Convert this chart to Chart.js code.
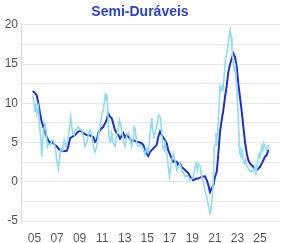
<!DOCTYPE html>
<html><head><meta charset="utf-8">
<script src="https://cdn.jsdelivr.net/npm/chart.js@4.4.1/dist/chart.umd.min.js"></script>
<style>html,body{margin:0;padding:0;background:#fff}#wrap{width:285px;height:243px}</style>
</head><body><div id="wrap"><canvas id="c" width="285" height="243"></canvas></div>
<script>
const titleText = "Semi-Duráveis";
const xTickYears = [2005,2007,2009,2011,2013,2015,2017,2019,2021,2023,2025];
const yTickLabels = [-5,0,5,10,15,20];

// monthly series (light)
const monthlyDates = [2004.84,2004.96,2005.04,2005.13,2005.20,2005.34,2005.43,2005.55,2005.64,2005.78,2005.93,2006.02,2006.14,2006.22,2006.38,2006.53,2006.67,2006.82,2006.97,2007.11,2007.20,2007.32,2007.50,2007.64,2007.80,2007.95,2008.09,2008.21,2008.30,2008.39,2008.50,2008.68,2008.89,2009.04,2009.19,2009.33,2009.48,2009.63,2009.77,2009.92,2010.07,2010.22,2010.37,2010.52,2010.66,2010.81,2010.96,2011.10,2011.26,2011.35,2011.41,2011.50,2011.55,2011.64,2011.76,2011.85,2011.99,2012.14,2012.29,2012.44,2012.52,2012.65,2012.74,2012.88,2013.03,2013.18,2013.32,2013.47,2013.62,2013.77,2013.83,2013.92,2014.07,2014.21,2014.36,2014.51,2014.65,2014.80,2014.95,2015.10,2015.25,2015.40,2015.49,2015.60,2015.69,2015.84,2015.98,2016.07,2016.20,2016.29,2016.37,2016.49,2016.58,2016.73,2016.87,2016.96,2017.09,2017.17,2017.32,2017.47,2017.62,2017.76,2017.91,2018.06,2018.20,2018.35,2018.50,2018.65,2018.80,2018.95,2019.09,2019.24,2019.33,2019.45,2019.53,2019.68,2019.84,2019.98,2020.13,2020.28,2020.42,2020.57,2020.66,2020.78,2020.87,2020.95,2021.02,2021.10,2021.17,2021.26,2021.31,2021.40,2021.46,2021.55,2021.64,2021.70,2021.75,2021.84,2021.93,2022.05,2022.14,2022.23,2022.28,2022.37,2022.44,2022.52,2022.64,2022.73,2022.82,2022.94,2023.03,2023.12,2023.17,2023.23,2023.32,2023.41,2023.53,2023.62,2023.70,2023.83,2023.97,2024.12,2024.27,2024.41,2024.56,2024.65,2024.77,2024.86,2024.95,2025.03,2025.16,2025.25,2025.34,2025.45,2025.60,2025.75];
const monthlyValues = [11.0,10.0,8.9,9.55,8.7,9.55,7.4,5.5,3.2,6.2,7.4,6.6,4.5,4.9,4.7,5.1,5.3,4.5,2.75,1.7,2.75,4.25,4.0,5.3,4.5,5.3,6.6,8.3,7.2,6.2,5.95,6.6,7.0,6.6,6.6,5.95,4.5,5.0,6.0,6.6,5.95,4.5,3.8,4.5,5.95,7.0,8.5,9.1,11.0,10.4,11.25,9.1,7.0,5.3,5.1,6.2,4.9,4.5,5.95,6.8,7.9,7.2,6.6,5.1,4.5,5.95,6.2,5.7,4.5,5.5,7.0,6.8,4.9,4.5,4.7,4.5,4.25,3.4,4.25,3.8,6.0,8.1,6.6,5.7,6.2,7.0,8.3,8.5,7.9,6.2,4.5,4.0,4.9,3.6,1.9,0.65,1.9,2.75,3.6,2.75,1.5,1.9,2.35,1.5,1.07,0.65,0.8,0.65,0.2,0.4,0.65,1.9,2.35,1.5,2.35,2.1,0.6,0.0,-1.2,-1.9,-3.0,-4.0,-3.6,-1.5,0.2,4.5,4.7,6.2,5.3,6.6,7.9,10.4,12.1,11.7,12.1,11.5,12.1,13.8,15.5,16.35,17.2,18.05,18.7,19.3,18.5,16.8,15.1,14.2,14.65,12.1,9.55,6.6,4.5,3.6,3.2,4.0,2.75,2.35,2.75,1.9,1.7,1.3,1.5,1.3,1.9,1.07,2.35,3.2,3.6,3.2,4.5,4.0,4.9,4.5,4.0,4.7];

// smoothed series (dark)
const smoothDates = [2004.84,2005.04,2005.20,2005.34,2005.49,2005.64,2005.78,2005.93,2006.08,2006.22,2006.38,2006.53,2006.67,2006.82,2006.97,2007.11,2007.26,2007.41,2007.56,2007.86,2008.00,2008.15,2008.30,2008.59,2008.89,2009.04,2009.19,2009.33,2009.63,2009.92,2010.22,2010.37,2010.52,2010.66,2010.81,2011.10,2011.41,2011.55,2011.70,2011.85,2011.99,2012.14,2012.29,2012.44,2012.59,2012.88,2013.03,2013.18,2013.47,2013.62,2013.77,2014.07,2014.36,2014.51,2014.65,2014.80,2014.95,2015.10,2015.25,2015.54,2015.84,2015.98,2016.14,2016.29,2016.58,2016.73,2016.87,2017.17,2017.32,2017.62,2017.76,2017.91,2018.06,2018.35,2018.65,2018.80,2019.09,2019.39,2019.53,2019.84,2020.13,2020.28,2020.42,2020.57,2020.72,2020.87,2021.02,2021.17,2021.31,2021.46,2021.61,2021.75,2021.90,2022.05,2022.20,2022.35,2022.50,2022.64,2022.79,2022.94,2023.08,2023.23,2023.39,2023.53,2023.68,2023.83,2023.97,2024.12,2024.27,2024.41,2024.56,2024.70,2024.86,2025.01,2025.16,2025.30,2025.45,2025.60,2025.75];
const smoothValues = [11.55,11.3,11.0,10.0,8.7,7.6,7.0,6.4,5.7,5.3,4.9,5.1,4.9,4.7,4.5,4.25,4.0,4.0,3.9,3.95,4.5,5.5,5.7,5.95,6.4,6.5,6.4,6.2,5.95,5.9,5.7,5.1,5.3,6.2,6.6,7.0,7.9,8.7,8.3,8.1,7.4,6.6,6.2,5.95,5.5,6.2,5.7,5.95,5.5,5.1,5.3,5.1,5.0,4.9,4.7,4.0,3.6,3.3,3.8,4.25,4.7,5.7,6.4,5.95,5.3,4.9,4.0,3.0,2.55,2.55,2.1,2.35,1.9,1.5,1.1,0.65,0.2,0.4,0.4,0.65,0.7,0.2,-0.4,-1.3,-0.85,-0.4,0.65,1.3,3.6,6.4,7.9,9.1,10.8,12.2,14.0,15.0,15.7,16.35,15.9,14.6,12.5,10.8,8.9,7.0,5.0,3.6,2.75,2.35,2.1,1.9,1.6,1.5,1.7,1.9,2.35,2.75,3.2,3.4,4.1];

const toPts = (xs, ys) => xs.map((x, i) => ({x: x, y: ys[i]}));

new Chart(document.getElementById('c'), {
  type: 'line',
  data: {
    datasets: [
      {data: toPts(monthlyDates, monthlyValues), borderColor: '#8fdcf3', borderWidth: 1.6, pointRadius: 0, tension: 0},
      {data: toPts(smoothDates, smoothValues), borderColor: '#1f2fcc', borderWidth: 2, pointRadius: 0, tension: 0}
    ]
  },
  options: {
    responsive: false,
    animation: false,
    layout: {padding: {top: 0, right: 5, left: 0, bottom: 0}},
    plugins: {
      legend: {display: false},
      tooltip: {enabled: false},
      title: {display: true, text: titleText, color: '#2a3fd6',
        font: {family: 'Liberation Sans', size: 14, weight: 'bold'},
        padding: {top: 4, bottom: 4}}
    },
    scales: {
      x: {
        type: 'linear', min: 2003.8, max: 2026.78,
        afterBuildTicks: s => { s.ticks = xTickYears.map(v => ({value: v})); },
        afterFit: s => { s.height = 22; },
        grid: {display: false},
        border: {display: false},
        ticks: {color: '#555', font: {family: 'Liberation Sans', size: 12}, padding: 2, maxRotation: 0,
          callback: v => String(v % 100).padStart(2, '0')}
      },
      y: {
        min: -5, max: 20,
        afterBuildTicks: s => { const t=[]; for (let v=-5; v<=20; v+=2.5) t.push({value:v}); s.ticks=t; },
        afterFit: s => { s.width = 21; },
        grid: {color: '#e8e8e8', drawTicks: false},
        border: {display: true, color: '#d8d8d8'},
        ticks: {color: '#555', font: {family: 'Liberation Sans', size: 12}, padding: 3,
          callback: v => yTickLabels.includes(v) ? String(v) : ''}
      }
    }
  }
});
</script></body></html>
